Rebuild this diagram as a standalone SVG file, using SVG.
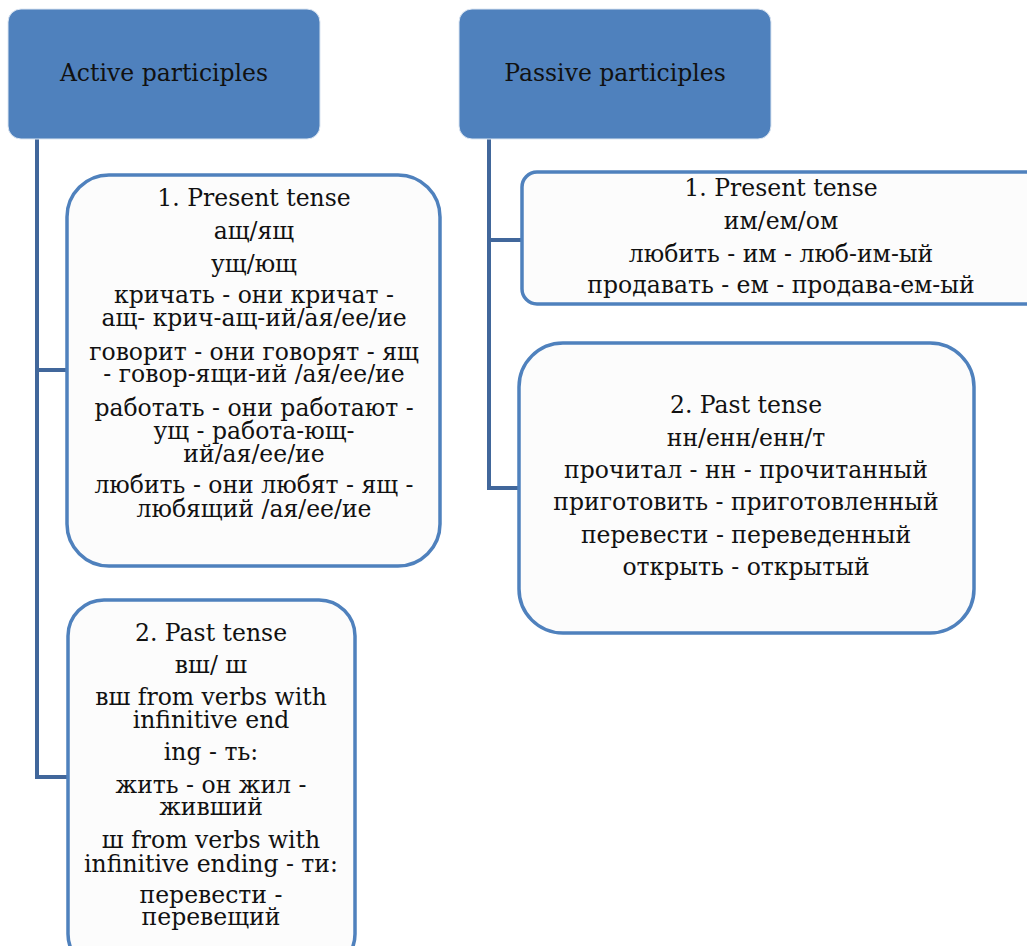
<svg xmlns="http://www.w3.org/2000/svg" width="1027" height="946" viewBox="0 0 1027 946">
<style>
.hdr{fill:#4F81BD;stroke:#DCE6F2;stroke-width:1}
.box{fill:#FCFCFC;stroke:#4F81BD;stroke-width:3.5}
.conn{fill:none;stroke:#41679B;stroke-width:4}
text{font-family:"DejaVu Serif","Liberation Serif",serif;font-size:23.5px;fill:#111;text-anchor:middle}
</style>
<rect width="1027" height="946" fill="#FFFFFF"/>
<g id="connectors">
<path class="conn" d="M37,139 V777 H68 M37,370 H67"/>
<path class="conn" d="M489,139 V488 H519 M489,240 H522"/>
</g>
<g id="active">
<rect class="hdr" x="8" y="9" width="312" height="130" rx="13"/>
<text x="164" y="81">Active participles</text>
</g>
<g id="passive">
<rect class="hdr" x="459" y="9" width="312" height="130" rx="13"/>
<text x="615" y="81">Passive participles</text>
</g>
<g id="active-present">
<rect class="box" x="67" y="175" width="373" height="391" rx="42"/>
<text x="254" y="206">1. Present tense</text>
<text x="254" y="239">ащ/ящ</text>
<text x="254" y="272">ущ/ющ</text>
<text x="254" y="303">кричать  - они кричат  -</text>
<text x="254" y="326">ащ- крич-ащ-ий/ая/ее/ие</text>
<text x="254" y="360">говорит - они говорят - ящ</text>
<text x="254" y="382">- говор-ящи-ий /ая/ее/ие</text>
<text x="254" y="416">работать - они работают -</text>
<text x="254" y="439">ущ - работа-ющ-</text>
<text x="254" y="462">ий/ая/ее/ие</text>
<text x="254" y="493">любить - они любят - ящ -</text>
<text x="254" y="517">любящий /ая/ее/ие</text>
</g>
<g id="active-past">
<rect class="box" x="68" y="600" width="287" height="370" rx="36"/>
<text x="211" y="641">2. Past tense</text>
<text x="211" y="673">вш/ ш</text>
<text x="211" y="705">вш from verbs with</text>
<text x="211" y="728">infinitive end</text>
<text x="211" y="760">ing - ть:</text>
<text x="211" y="793">жить - он жил -</text>
<text x="211" y="815">живший</text>
<text x="211" y="848">ш from verbs with</text>
<text x="211" y="872">infinitive ending - ти:</text>
<text x="211" y="903">перевести -</text>
<text x="211" y="925">перевещий</text>
</g>
<g id="passive-present">
<rect class="box" x="522" y="172" width="530" height="132" rx="15"/>
<text x="781" y="196">1. Present tense</text>
<text x="781" y="229">им/ем/ом</text>
<text x="781" y="262">любить - им - люб-им-ый</text>
<text x="781" y="293">продавать - ем - продава-ем-ый</text>
</g>
<g id="passive-past">
<rect class="box" x="519" y="343" width="455" height="290" rx="44"/>
<text x="746" y="413">2. Past tense</text>
<text x="746" y="446">нн/енн/енн/т</text>
<text x="746" y="478">прочитал - нн - прочитанный</text>
<text x="746" y="510">приготовить - приготовленный</text>
<text x="746" y="543">перевести - переведенный</text>
<text x="746" y="575">открыть - открытый</text>
</g>
</svg>
